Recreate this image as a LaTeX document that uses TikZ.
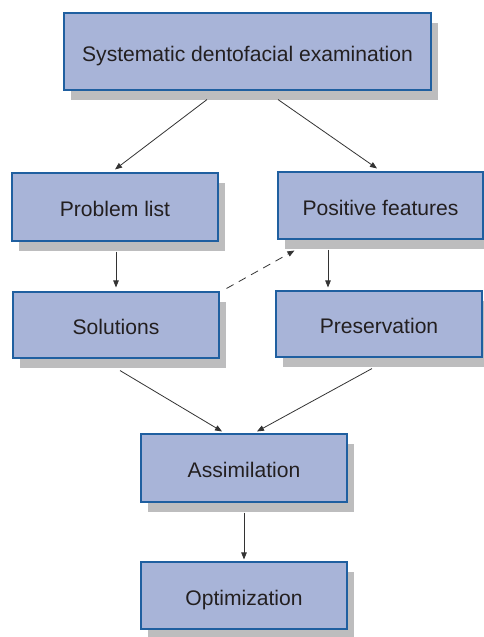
\documentclass[tikz,border=0pt]{standalone}
\usepackage{fontspec}
\setmainfont{Liberation Sans}
\usetikzlibrary{arrows.meta,shadows}
\definecolor{boxfill}{HTML}{A8B4D8}
\definecolor{boxline}{HTML}{1F5FA0}
\definecolor{shadowgray}{HTML}{BDBDBE}
\definecolor{ink}{HTML}{231F20}
\definecolor{arrowink}{HTML}{333333}
\tikzset{
  flowbox/.style={draw=boxline, line width=1.1pt, fill=boxfill, inner sep=0pt,
    minimum width=206pt, minimum height=67pt, text=ink,
    text height=19.8pt, text depth=0pt,
    font=\fontsize{21.1}{24}\selectfont,
    drop shadow={shadow xshift=7pt, shadow yshift=-9.5pt, fill=shadowgray, opacity=1}},
  link/.style={draw=arrowink, line width=0.8pt, -{Triangle[length=7pt,width=5.5pt]}},
}
\begin{document}
\begin{tikzpicture}[x=1pt,y=-1pt]
\useasboundingbox (0,0) rectangle (484,637);
\fill[white] (0,0) rectangle (484,637);
\node[flowbox, minimum width=367pt, minimum height=77pt] (top) at (247.5,51.5) {Systematic dentofacial examination};
\node[flowbox, minimum height=68pt] (prob) at (115,207) {Problem list};
\node[flowbox, minimum width=205pt] (pos) at (380.5,205.5) {Positive features};
\node[flowbox, minimum height=66pt] (sol) at (116,325) {Solutions};
\node[flowbox, minimum height=66pt] (pres) at (379,324) {Preservation};
\node[flowbox, minimum height=68pt] (assim) at (244,468) {Assimilation};
\node[flowbox] (opt) at (244,595.5) {Optimization};

\draw[link] ([xshift=-40.5pt,yshift=-9pt]top.south) -- ([xshift=0pt,yshift=3pt]prob.north);
\draw[link] ([xshift=30.5pt,yshift=-9pt]top.south) -- ([xshift=-3.5pt,yshift=3pt]pos.north);
\draw[link] ([xshift=1pt,yshift=-10pt]prob.south) -- ([yshift=4pt]sol.north);
\draw[link, dash pattern=on 8pt off 6pt] ([xshift=7pt,yshift=3pt]sol.north east) -- ([xshift=17pt,yshift=-11pt]pos.south west);
\draw[link] ([xshift=-52.5pt,yshift=-10pt]pos.south) -- ([xshift=-51pt,yshift=3pt]pres.north);
\draw[link] ([xshift=4pt,yshift=-12pt]sol.south) -- ([xshift=-22pt,yshift=2pt]assim.north);
\draw[link] ([xshift=-7pt,yshift=-11pt]pres.south) -- ([xshift=13pt,yshift=2pt]assim.north);
\draw[link] ([yshift=-10pt]assim.south) -- ([yshift=2pt]opt.north);
\end{tikzpicture}
\end{document}
